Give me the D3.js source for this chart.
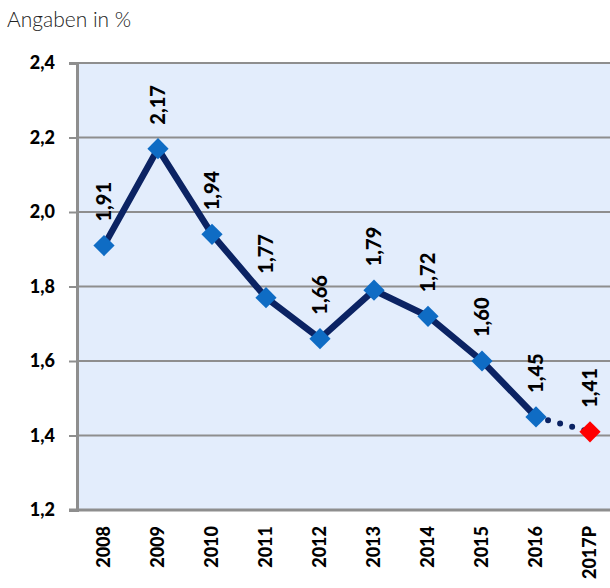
<!DOCTYPE html>
<html>
<head>
<meta charset="utf-8">
<script src="https://cdn.jsdelivr.net/npm/d3@7"></script>
<style>
  body { margin: 0; background: #fff; }
  svg { display: block; font-family: Lato, "Open Sans", sans-serif; }
</style>
</head>
<body>
<svg id="chart" width="610" height="588"></svg>
<script>
// data
let years = ["2008", "2009", "2010", "2011", "2012", "2013", "2014", "2015", "2016", "2017P"];
let values = [1.91, 2.17, 1.94, 1.77, 1.66, 1.79, 1.72, 1.60, 1.45, 1.41];
let forecast = ["2017P"];
let yTicks = [1.2, 1.4, 1.6, 1.8, 2.0, 2.2, 2.4];

// set the dimensions and margins of the graph
let margin = {top: 63, right: -7, bottom: 78, left: 77},
    width = 610 - margin.left - margin.right,
    height = 588 - margin.top - margin.bottom;

// german number format (comma as decimal mark)
let de = d3.formatLocale({decimal: ",", thousands: ".", grouping: [3], currency: ["", " €"]});
let fmt1 = de.format(".1f"),
    fmt2 = de.format(".2f");

let x = d3.scaleBand().domain(years).range([0, width]);
let y = d3.scaleLinear().domain([1.2, 2.4]).range([height, 0]);

let svg = d3.select("#chart");

svg.append("text")
    .attr("x", 7)
    .attr("y", 27)
    .attr("font-size", 21)
    .attr("font-weight", 300)
    .attr("fill", "#222")
    .text("Angaben in %");

let g = svg.append("g")
    .attr("transform", "translate(" + margin.left + "," + margin.top + ")");

// plot background
g.append("rect")
    .attr("width", width)
    .attr("height", height)
    .attr("fill", "#E3EDFC");

// gridlines
g.selectAll(".grid")
  .data(yTicks.slice(1))
  .enter().append("line")
    .attr("x1", 0)
    .attr("x2", width)
    .attr("y1", d => y(d))
    .attr("y2", d => y(d))
    .attr("stroke", "#8E8E8E")
    .attr("stroke-width", 2);

// y axis
let yAxis = g.append("g")
    .call(d3.axisLeft(y).tickValues(yTicks).tickFormat(fmt1).tickSize(8).tickPadding(14));
yAxis.select(".domain").attr("stroke", "#8E8E8E").attr("stroke-width", 3);
yAxis.selectAll(".tick line").attr("stroke", "#8E8E8E").attr("stroke-width", 2);
yAxis.selectAll("text")
    .attr("font-size", 18)
    .attr("font-weight", 900)
    .attr("font-family", "Lato, sans-serif")
    .attr("fill", "#000");

// x axis
let xAxis = g.append("g")
    .attr("transform", "translate(0," + height + ")")
    .call(d3.axisBottom(x).tickSize(0).tickSizeOuter(0));
xAxis.select(".domain")
    .attr("d", "M-8,0H" + width)
    .attr("stroke", "#8E8E8E")
    .attr("stroke-width", 3);
xAxis.selectAll("text")
    .attr("font-size", 18)
    .attr("font-weight", 900)
    .attr("font-family", "Lato, sans-serif")
    .attr("fill", "#000")
    .style("text-anchor", "end")
    .attr("dx", "-16")
    .attr("dy", "0.35em")
    .attr("y", 0)
    .attr("transform", "rotate(-90)");

let pts = years.map((d, i) => ({year: d, value: values[i], x: x(d) + x.bandwidth() / 2, y: y(values[i])}));
let actual = pts.filter(d => forecast.indexOf(d.year) < 0);
let last = actual[actual.length - 1];
let future = [last].concat(pts.filter(d => forecast.indexOf(d.year) >= 0));

let line = d3.line().x(d => d.x).y(d => d.y);

// solid line for the actual years
g.append("path")
    .datum(actual)
    .attr("d", line)
    .attr("fill", "none")
    .attr("stroke", "#0B2363")
    .attr("stroke-width", 6.5)
    .attr("stroke-linejoin", "round");

// dotted line to the forecast
g.append("path")
    .datum(future)
    .attr("d", line)
    .attr("fill", "none")
    .attr("stroke", "#0B2363")
    .attr("stroke-width", 6)
    .attr("stroke-linecap", "round")
    .attr("stroke-dasharray", "0,12.5");

// diamond markers
g.selectAll(".marker")
  .data(pts)
  .enter().append("path")
    .attr("d", d3.symbol().type(d3.symbolSquare).size(225))
    .attr("transform", d => "translate(" + d.x + "," + d.y + ") rotate(45)")
    .attr("fill", d => forecast.indexOf(d.year) >= 0 ? "#FF0000" : "#0F6CC4");

// value labels
g.selectAll(".label")
  .data(pts)
  .enter().append("text")
    .attr("transform", d => "translate(" + d.x + "," + (d.y - 24) + ") rotate(-90)")
    .attr("dy", "0.35em")
    .attr("font-size", 20)
    .attr("font-weight", 900)
    .attr("fill", "#000")
    .text(d => fmt2(d.value));
</script>
</body>
</html>
